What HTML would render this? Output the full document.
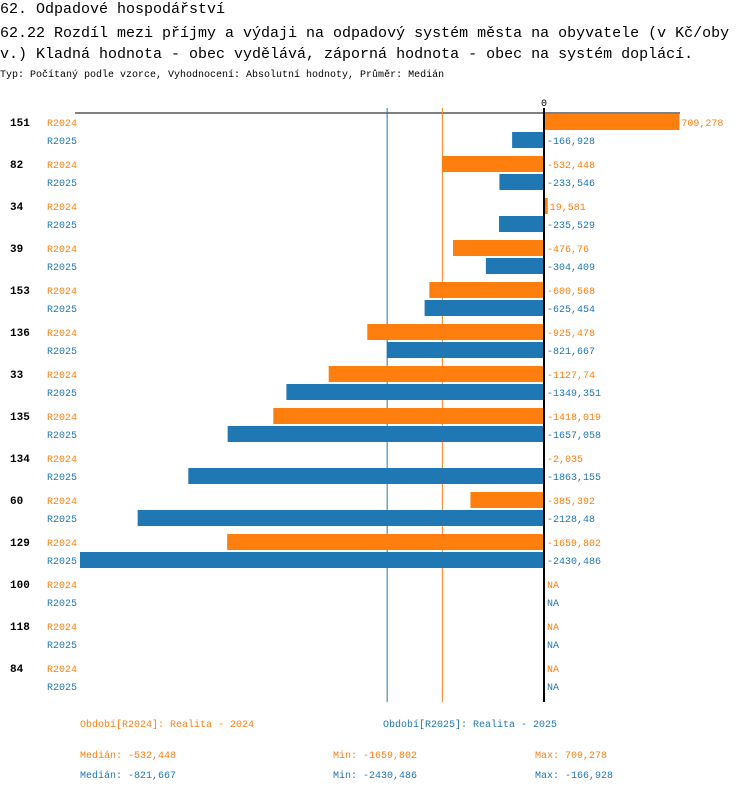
<!DOCTYPE html>
<html><head><meta charset="utf-8"><style>
body{margin:0;background:#fff;}
svg text{font-family:"Liberation Mono",monospace;}
</style></head><body>
<svg id="c" width="750" height="792" xmlns="http://www.w3.org/2000/svg">
<text x="0" y="13" font-size="15">62. Odpadové hospodářství</text>
<text x="0" y="37" font-size="15">62.22 Rozdíl mezi příjmy a výdaji na odpadový systém města na obyvatele (v Kč/oby</text>
<text x="0" y="58" font-size="15">v.) Kladná hodnota - obec vydělává, záporná hodnota - obec na systém doplácí.</text>
<text x="0" y="77" font-size="10">Typ: Počítaný podle vzorce, Vyhodnocení: Absolutní hodnoty, Průměr: Medián</text>
<g id="plot"></g>
<text x="80" y="727" font-size="10" fill="#ff7f0e">Období[R2024]: Realita - 2024</text>
<text x="383" y="727" font-size="10" fill="#1f77b4">Období[R2025]: Realita - 2025</text>
<text x="80" y="758" font-size="10" fill="#ff7f0e">Medián: -532,448</text>
<text x="333" y="758" font-size="10" fill="#ff7f0e">Min: -1659,802</text>
<text x="535" y="758" font-size="10" fill="#ff7f0e">Max: 709,278</text>
<text x="80" y="778" font-size="10" fill="#1f77b4">Medián: -821,667</text>
<text x="333" y="778" font-size="10" fill="#1f77b4">Min: -2430,486</text>
<text x="535" y="778" font-size="10" fill="#1f77b4">Max: -166,928</text>
</svg>
<script>
const categories=["151","82","34","39","153","136","33","135","134","60","129","100","118","84"];
const values2024=[709.278,-532.448,19.581,-476.76,-600.568,-925.478,-1127.74,-1418.019,-2.035,-385.392,-1659.802,null,null,null];
const values2025=[-166.928,-233.546,-235.529,-304.409,-625.454,-821.667,-1349.351,-1657.058,-1863.155,-2128.48,-2430.486,null,null,null];
const labels2024=["709,278","-532,448","19,581","-476,76","-600,568","-925,478","-1127,74","-1418,019","-2,035","-385,392","-1659,802","NA","NA","NA"];
const labels2025=["-166,928","-233,546","-235,529","-304,409","-625,454","-821,667","-1349,351","-1657,058","-1863,155","-2128,48","-2430,486","NA","NA","NA"];
const median2024=-532.448, median2025=-821.667;
const NS="http://www.w3.org/2000/svg";
const g=document.getElementById('plot');
const X0=544, K=464/2430.486;
const x=v=>X0+v*K;
const rowY=i=>122+42*i;
function el(t,a,txt){const e=document.createElementNS(NS,t);for(const k in a)e.setAttribute(k,a[k]);if(txt!=null)e.textContent=txt;g.appendChild(e);return e;}
const topY=113,botY=702;
let e=el('line',{x1:75,x2:680,y1:topY,y2:topY,stroke:'#000','stroke-width':1});


e=el('line',{x1:x(median2025),x2:x(median2025),y1:108,y2:botY,stroke:'#1f77b4','stroke-width':1});


e=el('line',{x1:x(median2024),x2:x(median2024),y1:108,y2:botY,stroke:'#ff7f0e','stroke-width':1});


categories.forEach((c,i)=>{
  const y=rowY(i);
  let t=el('text',{x:10,y:y+4,'font-size':11,'font-weight':'bold'},c);
  
  
  t=el('text',{x:47,y:y+4,'font-size':10,fill:'#ff7f0e'},'R2024');
  
  
  t=el('text',{x:47,y:y+22,'font-size':10,fill:'#1f77b4'},'R2025');
  
  
  [[values2024[i],labels2024[i],'#ff7f0e',y-8,'2024'],[values2025[i],labels2025[i],'#1f77b4',y+10,'2025']].forEach(([v,l,col,by,s])=>{
    if(v!=null){
      const a=Math.min(x(v),X0),w=Math.abs(x(v)-X0);
      const r=el('rect',{x:a,y:by,width:Math.max(w,1),height:16,fill:col});
      
      
    }
    const lx=(v!=null&&v>0)?x(v)+2:X0+3;
    const vt=el('text',{x:lx,y:by+12,'font-size':10,fill:col},l);
    
    
  });
});
e=el('line',{x1:X0,x2:X0,y1:108,y2:botY,stroke:'#000','stroke-width':2});


e=el('text',{x:X0,y:106,'font-size':10,'text-anchor':'middle'},'0');


</script>
</body></html>
